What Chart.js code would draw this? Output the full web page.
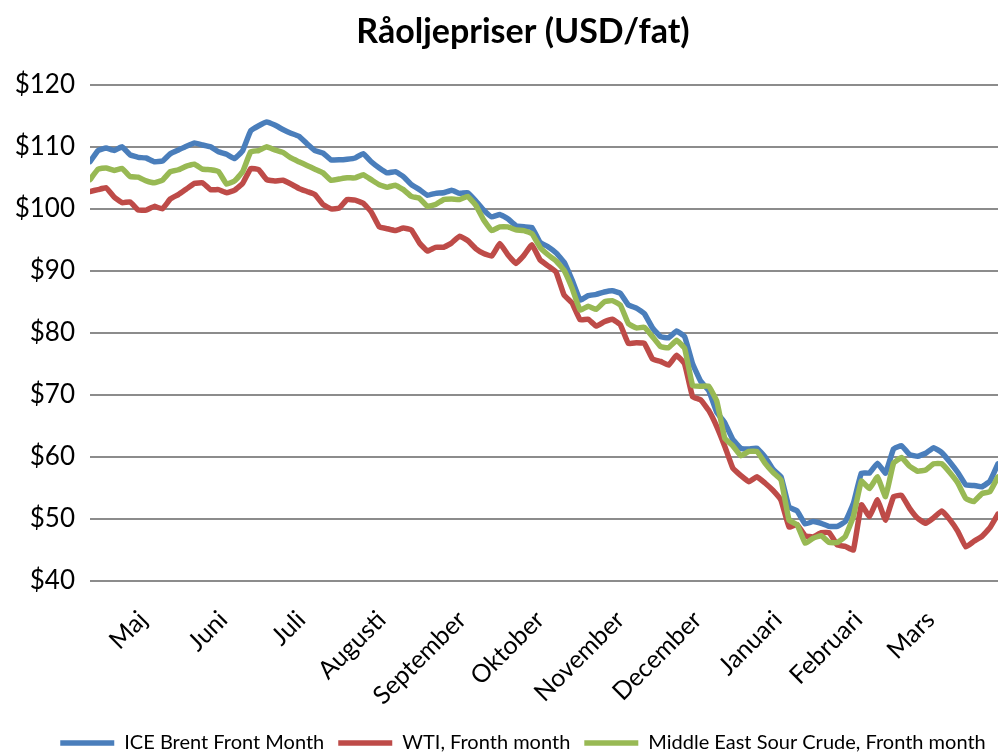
<!DOCTYPE html>
<html>
<head>
<meta charset="utf-8">
<script src="https://cdn.jsdelivr.net/npm/chart.js@4.4.1/dist/chart.umd.min.js"></script>
<style>
  html, body { margin: 0; padding: 0; background: #fff; }
  #wrap { width: 998px; height: 753px; }
</style>
</head>
<body>
<div id="wrap"><canvas id="oilChart"></canvas></div>
<script>
// Month labels and where they fall (sample index)
const months = ['Maj', 'Juni', 'Juli', 'Augusti', 'September', 'Oktober', 'November', 'December', 'Januari', 'Februari', 'Mars'];
const monthPos = [6.6, 16.6, 26.3, 36.3, 46.3, 56.0, 66.0, 75.6, 85.6, 95.6, 104.6];

// Y axis ticks
const yTicks = [40, 50, 60, 70, 80, 90, 100, 110, 120];

// ICE Brent Front Month
const brent = [
  107.6, 109.4, 109.8, 109.4, 110.0, 108.7, 108.3, 108.2, 107.6, 107.7,
  108.9, 109.5, 110.1, 110.6, 110.3, 110.0, 109.2, 108.8, 108.1, 109.4,
  112.6, 113.4, 114.0, 113.5, 112.8, 112.2, 111.7, 110.5, 109.4, 109.0,
  107.9, 107.9, 108.0, 108.2, 108.9, 107.6, 106.6, 105.8, 106.0, 105.2,
  103.9, 103.1, 102.2, 102.5, 102.6, 103.0, 102.5, 102.6, 101.3, 99.8,
  98.7, 99.1, 98.4, 97.3, 97.1, 97.0, 94.6, 93.9, 92.9, 91.4,
  88.5, 85.3, 86.0, 86.2, 86.6, 86.8, 86.4, 84.5, 84.0, 83.1,
  80.8, 79.4, 79.2, 80.3, 79.4, 75.0, 72.2, 70.7, 67.2, 65.5,
  62.8, 61.4, 61.3, 61.4, 60.0, 58.0, 56.8, 51.9, 51.3, 49.2,
  49.6, 49.3, 48.8, 48.8, 49.6, 52.5, 57.4, 57.4, 59.0, 57.4,
  61.3, 61.8, 60.4, 60.1, 60.6, 61.5, 60.7, 59.2, 57.5, 55.5,
  55.4, 55.2, 56.1, 58.9
];

// WTI, Fronth month
const wti = [
  102.8, 103.1, 103.4, 101.9, 101.0, 101.1, 99.8, 99.8, 100.4, 100.0,
  101.6, 102.3, 103.2, 104.1, 104.2, 103.1, 103.1, 102.6, 103.0, 104.1,
  106.5, 106.3, 104.7, 104.5, 104.6, 104.0, 103.3, 102.8, 102.3, 100.7,
  100.0, 100.1, 101.5, 101.4, 100.9, 99.5, 97.1, 96.8, 96.5, 96.9,
  96.6, 94.5, 93.2, 93.8, 93.8, 94.5, 95.6, 94.9, 93.6, 92.8,
  92.4, 94.4, 92.6, 91.2, 92.5, 94.2, 91.8, 90.8, 89.8, 86.1,
  84.8, 82.1, 82.2, 81.1, 81.8, 82.2, 81.3, 78.3, 78.4, 78.3,
  75.8, 75.4, 74.8, 76.4, 75.0, 69.7, 69.2, 67.5, 64.9, 61.7,
  58.2, 57.0, 56.0, 56.8, 55.8, 54.6, 53.0, 48.7, 49.1, 47.3,
  47.1, 47.8, 47.8, 45.8, 45.6, 45.0, 52.3, 50.4, 53.1, 49.8,
  53.6, 53.8, 51.7, 50.1, 49.3, 50.2, 51.3, 49.9, 48.0, 45.5,
  46.4, 47.2, 48.6, 50.8
];

// Middle East Sour Crude, Fronth month
const sour = [
  104.7, 106.4, 106.6, 106.2, 106.5, 105.2, 105.1, 104.5, 104.2, 104.6,
  106.0, 106.3, 106.9, 107.2, 106.4, 106.3, 106.0, 104.0, 104.5, 106.0,
  109.2, 109.4, 110.0, 109.5, 109.1, 108.2, 107.6, 107.0, 106.4, 105.8,
  104.6, 104.8, 105.0, 105.0, 105.5, 104.7, 103.9, 103.5, 103.8, 103.1,
  102.0, 101.7, 100.4, 100.7, 101.5, 101.6, 101.5, 102.0, 100.6, 98.2,
  96.5, 97.1, 97.1, 96.6, 96.5, 96.0, 93.8, 92.6, 91.6, 90.1,
  87.2, 83.7, 84.3, 83.8, 85.0, 85.2, 84.5, 81.5, 80.8, 80.9,
  79.4, 77.8, 77.6, 78.8, 77.5, 71.5, 71.4, 71.4, 69.0, 63.0,
  61.8, 60.2, 60.9, 60.9, 59.0, 57.5, 56.3, 49.8, 49.1, 46.1,
  46.9, 47.3, 46.2, 46.2, 47.2, 50.4, 56.1, 54.9, 56.8, 53.6,
  59.0, 59.9, 58.5, 57.7, 57.9, 58.9, 58.9, 57.5, 55.8, 53.3,
  52.8, 54.1, 54.4, 56.8
];

const FONT = 'Lato, "Open Sans", sans-serif';

const toXY = arr => arr.map((v, i) => ({ x: i, y: v }));

function lineSet(label, data, color, order) {
    return {
        label: label,
        data: toXY(data),
        borderColor: color,
        backgroundColor: color,
        borderWidth: 5.5,
        borderJoinStyle: 'round',
        borderCapStyle: 'round',
        pointRadius: 0,
        pointStyle: 'line',
        tension: 0.1,
        fill: false,
        order: order
    };
}

// title and legend sit a bit right of centre in the original
const shiftBoxes = {
    id: 'shiftBoxes',
    afterLayout(chart) {
        [chart.titleBlock, chart.legend].forEach(box => {
            if (box) { box.left += 24; box.right += 24; }
        });
    }
};

const ctx = document.getElementById('oilChart').getContext('2d');
new Chart(ctx, {
    type: 'line',
    data: {
        datasets: [
            lineSet('ICE Brent Front Month', brent, '#4A7EBB', 2),
            lineSet('WTI, Fronth month', wti, '#BE4B48', 1),
            lineSet('Middle East Sour Crude, Fronth month', sour, '#98B954', 0)
        ]
    },
    plugins: [shiftBoxes],
    options: {
        responsive: true,
        maintainAspectRatio: false,
        animation: false,
        layout: { padding: { left: 0, right: 0, top: 0, bottom: -10 } },
        plugins: {
            title: {
                display: true,
                text: 'Råoljepriser (USD/fat)',
                color: '#000',
                font: { family: FONT, size: 34, weight: 'bold' },
                padding: { top: 12, bottom: 32 }
            },
            legend: {
                position: 'bottom',
                labels: {
                    usePointStyle: true,
                    pointStyleWidth: 54,
                    boxHeight: 18,
                    padding: 14,
                    color: '#000',
                    font: { family: FONT, size: 20 },
                    sort: (a, b) => a.datasetIndex - b.datasetIndex
                }
            },
            tooltip: { enabled: false }
        },
        scales: {
            x: {
                type: 'linear',
                min: 0,
                max: brent.length - 1,
                grid: { display: false, drawTicks: false },
                border: { display: false },
                afterFit: scale => { scale.height = 138; },
                afterBuildTicks: scale => {
                    scale.ticks = monthPos.map(v => ({ value: v }));
                },
                ticks: {
                    autoSkip: false,
                    maxRotation: 45,
                    minRotation: 45,
                    padding: 24,
                    color: '#000',
                    font: { family: FONT, size: 25 },
                    callback: (value, index) => months[index]
                }
            },
            y: {
                min: 40,
                max: 120,
                afterFit: scale => { scale.width = 90; },
                afterBuildTicks: scale => {
                    scale.ticks = yTicks.map(v => ({ value: v }));
                },
                grid: { color: '#8c8c8c', lineWidth: 2, drawTicks: false },
                border: { display: false },
                ticks: {
                    padding: 15,
                    color: '#000',
                    font: { family: FONT, size: 26 },
                    callback: value => '$' + value
                }
            }
        }
    }
});
</script>
</body>
</html>
